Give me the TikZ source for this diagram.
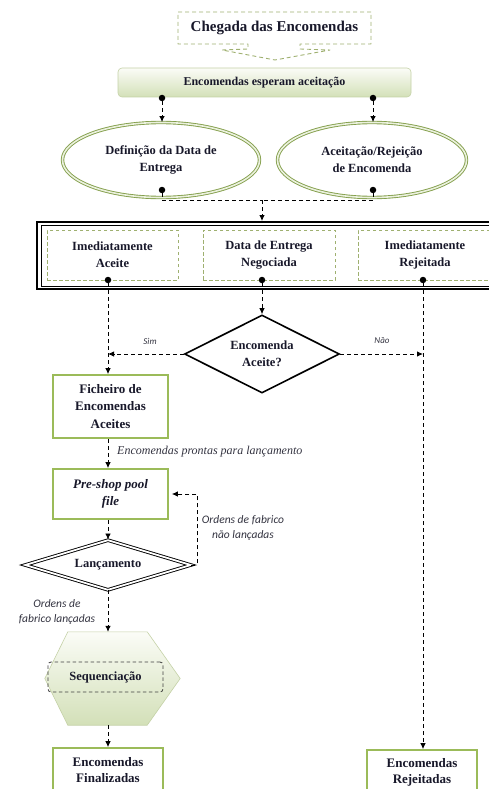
\documentclass[tikz,border=0pt]{standalone}
\usepackage{fontspec}
\setmainfont{Liberation Serif}
\newfontfamily\notefont{Carlito}
\usetikzlibrary{arrows.meta,shapes.geometric,calc}

\definecolor{ink}{HTML}{18182A}
\definecolor{olive}{HTML}{9BBB59}
\definecolor{olivedash}{HTML}{9FB070}
\definecolor{barborder}{HTML}{C4D1A6}
\definecolor{paletop}{HTML}{FBFCF7}
\definecolor{palebot}{HTML}{D3E0B8}
\definecolor{notegray}{HTML}{333340}

\tikzset{
  txt/.style={font=\fontsize{12.5}{17}\selectfont\bfseries, text=ink, align=center, inner sep=0pt},
  dot/.style={circle, fill=black, inner sep=0pt, minimum size=6.5pt},
  flow/.style={draw=black, dash pattern=on 4pt off 3pt, line width=0.8pt},
  arr/.style={flow, -{Latex[length=6pt,width=5.5pt]}},
  calloutline/.style={draw=olivedash, dash pattern=on 4pt off 3pt, line width=0.9pt, line join=round},
  dashbox/.style={txt, draw=olivedash, dash pattern=on 3.5pt off 2.5pt, line width=0.8pt},
  greenbox/.style={txt, draw=olive, line width=1.8pt, fill=white},
  oval/.style={txt, ellipse, draw=olive!85!black, line width=0.9pt, double=olive!20, double distance=1.6pt},
  note/.style={font=\notefont\itshape\fontsize{11.5}{15}\selectfont, text=notegray, align=center, inner sep=0pt},
  smallnote/.style={font=\notefont\itshape\fontsize{9}{11}\selectfont, text=notegray, inner sep=0pt}
}

\begin{document}
\begin{tikzpicture}[x=1pt,y=-1pt]
\useasboundingbox (0,0) rectangle (489,789);
\clip (0,0) rectangle (489,789);

% arrival callout with a downward pointer
\node[txt, font=\fontsize{15}{18}\selectfont\bfseries, minimum width=193pt, minimum height=32pt] (chegada) at (274.5,28) {Chegada das Encomendas};
\draw[calloutline] (178,12) -- (371,12) -- (371,44) -- (300,44) -- (300,49) -- (330,50)
  -- (275,60) -- (222,50) -- (248,49) -- (248,44) -- (178,44) -- cycle;

% waiting bar
\node[txt, font=\fontsize{12}{15}\selectfont\bfseries, minimum width=293pt, minimum height=29pt,
      rounded corners=4pt, draw=barborder, line width=0.6pt, top color=paletop, bottom color=palebot]
      (espera) at (264.5,82.5) {Encomendas esperam aceita\c{c}\~ao};
\node[dot] (d1) at (162,98) {};
\node[dot] (d2) at (373,98) {};

% two decisions
\node[oval, minimum width=197pt, minimum height=75pt] (eL) at (161,160) {Defini\c{c}\~ao da Data de\\Entrega};
\node[oval, minimum width=189pt, minimum height=75pt] (eR) at (372,160) {Aceita\c{c}\~ao/Rejei\c{c}\~ao\\de Encomenda};
\draw[arr] (d1) -- (d1 |- eL.north);
\draw[arr] (d2) -- (d2 |- eR.north);
\node[dot] (f1) at (162,190) {};
\node[dot] (f2) at (373,190) {};
\coordinate (join) at (262,200);

% outcome frame
\node[minimum width=458pt, minimum height=67pt, draw=black, line width=2pt, inner sep=0pt] (frame) at (266,255.5) {};
\draw[line width=0.8pt] ($(frame.north west)+(5,4)$) rectangle ($(frame.south east)+(-5,-4)$);
\node[dashbox, minimum width=131pt, minimum height=50pt] (b1) at (112.5,255) {Imediatamente\\Aceite};
\node[dashbox, minimum width=132pt, minimum height=50pt] (b2) at (269,255) {Data de Entrega\\Negociada};
\node[dashbox, minimum width=134pt, minimum height=50pt] (b3) at (425,255) {Imediatamente\\Rejeitada};

\draw[flow] (f1) |- (join);
\draw[flow] (f2) |- (join);
\draw[arr] (join) -- (join |- frame.north);

\node[dot] (p1) at (108,280) {};
\node[dot] (p2) at (262,280) {};
\node[dot] (p3) at (423,280) {};

% acceptance question
\node[txt, diamond, draw=black, line width=1.6pt, aspect=2, minimum width=155pt, minimum height=78pt] (q) at (262,354) {Encomenda\\Aceite?};
\draw[arr] (p2) -- (p2 |- q.north);
\draw[arr] (q.west) -- (p1 |- q.west);
\draw[arr] (q.east) -- (p3 |- q.east);
\node[smallnote] (sim) at (150,341) {Sim};
\node[smallnote] (nao) at (382,341) {N\~ao};

% accepted branch
\node[greenbox, font=\fontsize{13}{17.5}\selectfont\bfseries, minimum width=115pt, minimum height=63pt] (fich) at (110.5,406.5) {Ficheiro de\\Encomendas\\Aceites};
\draw[arr] (p1) -- (p1 |- fich.north);

\node[greenbox, font=\fontsize{13}{17}\selectfont\bfseries\itshape, minimum width=115pt, minimum height=50pt] (pre) at (110.5,494) {Pre-shop pool\\file};
\draw[arr] (fich.south -| p1) -- (p1 |- pre.north);
\node[font=\fontsize{12}{14}\selectfont\itshape, text=notegray, anchor=west, inner sep=0pt] (ready) at (117,452) {Encomendas prontas para lan\c{c}amento};

\node[txt, diamond, draw=black, line width=0.9pt, double=white, double distance=1.8pt, aspect=3.3, minimum width=166pt, minimum height=50pt] (lan) at (108,565) {Lan\c{c}amento};
\draw[arr] (pre.south -| p1) -- (p1 |- lan.north);
\draw[arr, shorten >=3pt] (lan.east) -| ($(pre.east)+(28,0)$) -- (pre.east);
\node[note] (notlaunched) at (243,528) {Ordens de fabrico\\n\~ao lan\c{c}adas};

% sequencing
\node[minimum width=135pt, minimum height=93pt, inner sep=0pt] (hex) at (112.5,678.5) {};
\shade[top color=paletop, bottom color=palebot, draw=barborder, line width=0.6pt]
  (hex.west) -- ($(hex.north west)+(23,0)$) -- ($(hex.north east)+(-33,0)$) -- (hex.east)
  -- ($(hex.south east)+(-33,0)$) -- ($(hex.south west)+(23,0)$) -- cycle;
\node[txt, draw=black!75, dash pattern=on 3.5pt off 2.5pt, line width=0.8pt, rounded corners=3pt,
      minimum width=115pt, minimum height=30pt] (seq) at (105.5,677) {Sequencia\c{c}\~ao};
\draw[arr] (lan.south) -- (lan.south |- hex.north);
\node[note] (launched) at (57,612) {Ordens de\\fabrico lan\c{c}adas};

% final states
\node[greenbox, font=\fontsize{13}{16}\selectfont\bfseries, minimum width=110pt, minimum height=44pt] (fin) at (108,770) {Encomendas\\Finalizadas};
\draw[arr] (lan.south |- hex.south) -- (lan.south |- fin.north);
\node[greenbox, font=\fontsize{13}{16}\selectfont\bfseries, minimum width=110pt, minimum height=44pt] (rej) at (422,772) {Encomendas\\Rejeitadas};
\draw[arr] (p3) -- (p3 |- rej.north);
\end{tikzpicture}
\end{document}
